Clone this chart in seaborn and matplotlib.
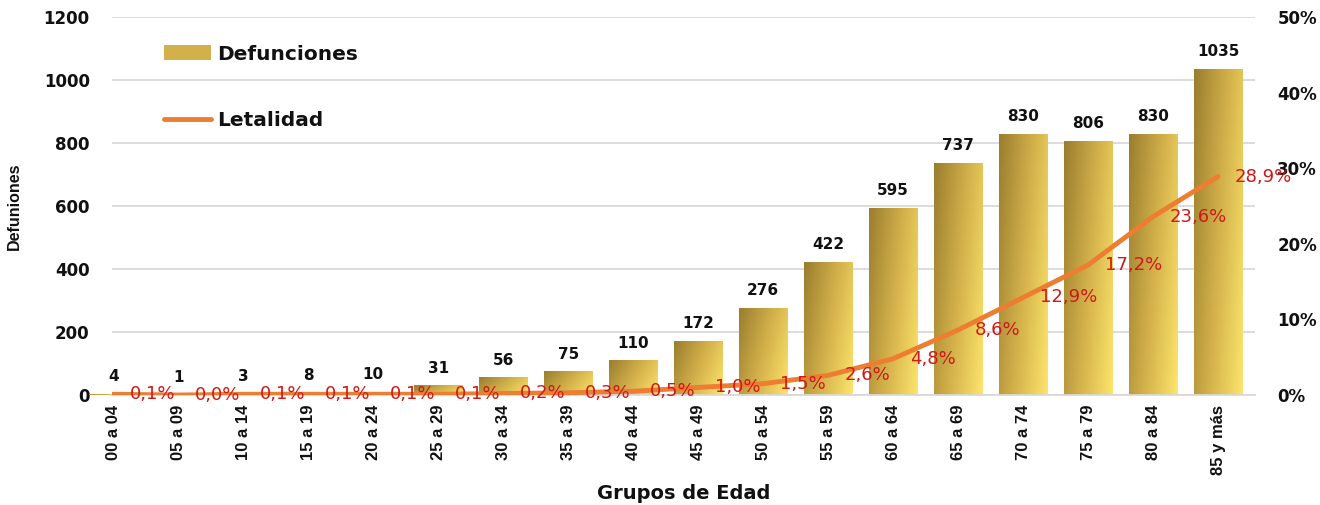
import numpy as np
import pandas as pd
import matplotlib
matplotlib.use("Agg")
import matplotlib.pyplot as plt
import seaborn as sns
from matplotlib.colors import LinearSegmentedColormap
from matplotlib.lines import Line2D
from matplotlib.patches import Patch
from matplotlib.ticker import FuncFormatter, MultipleLocator

# -------------------------------
# Data
# -------------------------------
grupos = ["00 a 04", "05 a 09", "10 a 14", "15 a 19", "20 a 24", "25 a 29",
          "30 a 34", "35 a 39", "40 a 44", "45 a 49", "50 a 54", "55 a 59",
          "60 a 64", "65 a 69", "70 a 74", "75 a 79", "80 a 84", "85 y más"]
defunciones = [4, 1, 3, 8, 10, 31, 56, 75, 110, 172, 276, 422, 595, 737, 830, 806, 830, 1035]
letalidad = [0.1, 0.0, 0.1, 0.1, 0.1, 0.1, 0.2, 0.3, 0.5, 1.0, 1.5, 2.6, 4.8, 8.6, 12.9, 17.2, 23.6, 28.9]

df = pd.DataFrame({"grupo": grupos, "defunciones": defunciones, "letalidad": letalidad})
df["pos"] = np.arange(len(df))

# -------------------------------
# Style
# -------------------------------
sns.set_style("white")
plt.rcParams['font.family'] = ['DejaVu Sans']
plt.rcParams['text.color'] = '#111111'
plt.rcParams['axes.labelcolor'] = '#111111'
plt.rcParams['xtick.color'] = '#111111'
plt.rcParams['ytick.color'] = '#111111'
narrow = ['Liberation Sans', 'DejaVu Sans']

gold = LinearSegmentedColormap.from_list("gold", ["#9a7e2f", "#d2b04a", "#fde46c"])

fig = plt.figure(figsize=(13.2, 5.05), dpi=100)
ax = fig.add_axes([0.0848, 0.2178, 0.866, 0.7485])

# -------------------------------
# Bars (Defunciones) with gradient fill
# -------------------------------
sns.barplot(data=df, x="grupo", y="defunciones", ax=ax, width=0.75,
            color="#d2b04a", saturation=1, zorder=2)

gy, gx = np.mgrid[0:1:50j, 0:1:50j]
grad = (1.4 * gx + 0.6 * gy) / 2  # top-left dark, bottom-right light
for bar in ax.patches:
    x0, y0 = bar.get_x(), bar.get_y()
    w, h = bar.get_width(), bar.get_height()
    bar.set_facecolor("none")
    bar.set_edgecolor("none")
    im = ax.imshow(grad, extent=[x0, x0 + w, y0, y0 + h], origin="upper",
                   aspect="auto", cmap=gold, zorder=2, interpolation="bilinear")
    im.set_clip_path(bar)

for i, v in enumerate(defunciones):
    ax.annotate(str(v), (i, v), xytext=(0, 7), textcoords="offset points",
                ha="center", va="bottom", fontsize=11, fontweight="bold", color="#111111")

ax.set_xlim(-0.02, 17.57)
ax.set_ylim(0, 1200)
ax.yaxis.set_major_locator(MultipleLocator(200))
ax.grid(axis="y", color="#d9d9d9", linewidth=1.3, zorder=0)
ax.set_axisbelow(True)
for s in ["top", "right", "left"]:
    ax.spines[s].set_visible(False)
ax.spines["bottom"].set_color("#d9d9d9")
ax.spines["bottom"].set_linewidth(1.3)
ax.tick_params(axis="y", length=0, pad=16, labelsize=12)
ax.tick_params(axis="x", length=0, pad=7)
for lab in ax.get_yticklabels():
    lab.set_fontweight("bold")
ax.set_xticks(df["pos"])
ax.set_xticklabels(grupos, rotation=90, family=narrow, fontsize=12, fontweight="bold")
ax.set_ylabel("Defuniones", family=narrow, fontsize=11.5, fontweight="bold")
ax.yaxis.set_label_coords(-0.079, 0.5)
ax.set_xlabel("Grupos de Edad", fontsize=14, fontweight="bold")
ax.xaxis.set_label_coords(0.5, -0.235)

# -------------------------------
# Line (Letalidad) on secondary axis
# -------------------------------
ax2 = ax.twinx()
sns.lineplot(data=df, x="pos", y="letalidad", ax=ax2, color="#ed7d31",
             linewidth=3.5, zorder=3, legend=False)
ax2.set_ylim(0, 50)
ax2.set_xlim(-0.02, 17.57)
ax2.yaxis.set_major_locator(MultipleLocator(10))
ax2.yaxis.set_major_formatter(FuncFormatter(lambda v, p: f"{v:.0f}%"))
ax2.tick_params(axis="y", length=0, pad=16, labelsize=12)
for lab in ax2.get_yticklabels():
    lab.set_fontweight("bold")
ax2.set_ylabel("")
ax2.set_xlabel("")
for s in ax2.spines.values():
    s.set_visible(False)

for i, v in enumerate(letalidad):
    ax2.annotate(f"{v:.1f}%".replace(".", ","), (i, v), xytext=(12, 0),
                 textcoords="offset points", ha="left", va="center",
                 fontsize=13, color="#d01818", zorder=4)

# -------------------------------
# Legend
# -------------------------------
handles = [Patch(facecolor="#d2b04a", edgecolor="none"),
           Line2D([0], [0], color="#ed7d31", linewidth=3.5)]
ax.legend(handles, ["Defunciones", "Letalidad"], loc="upper left",
          bbox_to_anchor=(0.03, 0.975), frameon=False, handlelength=2.3,
          handletextpad=0.3, labelspacing=2.35,
          prop={"weight": "bold", "size": 14.5})

fig.savefig("out.png", dpi=100)
